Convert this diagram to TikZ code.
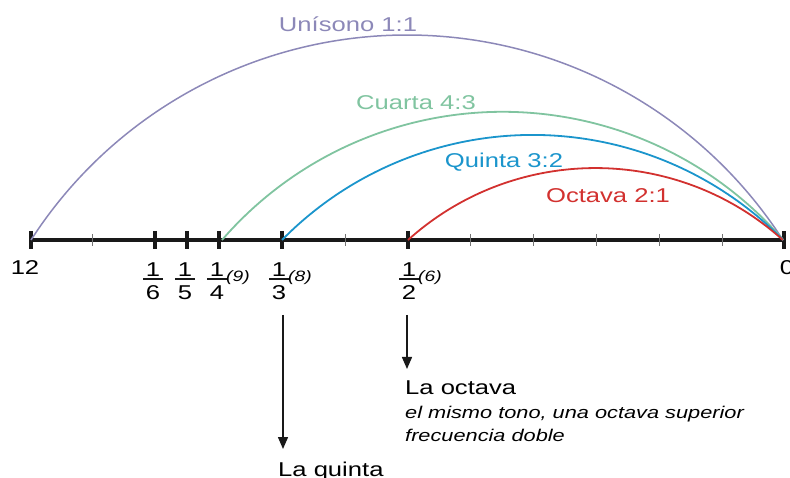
\documentclass[tikz,border=0pt]{standalone}
\usepackage{fontspec}
\setmainfont[FakeStretch=1.28]{Liberation Sans}
\usetikzlibrary{arrows.meta}
\definecolor{cuni}{HTML}{8C88B8}
\definecolor{ccua}{HTML}{80C4A0}
\definecolor{cqui}{HTML}{1B95CC}
\definecolor{coct}{HTML}{D2312F}
\tikzset{
  axisline/.style={line width=4pt, black!90},
  majortick/.style={line width=3.5pt, black!90},
  minortick/.style={line width=1pt, black!55},
  arcline/.style={line width=1.8pt},
  lbl/.style={inner sep=0pt, anchor=base, font=\fontsize{20}{24}\selectfont},
  lblw/.style={inner sep=0pt, anchor=base west, font=\fontsize{20}{24}\selectfont},
  itl/.style={inner sep=0pt, anchor=base west, font=\fontsize{17}{20}\selectfont\itshape},
  supl/.style={inner sep=0pt, anchor=base west, font=\fontsize{15}{18}\selectfont\itshape},
  fracbar/.style={line width=1.4pt, black!90},
  downarrow/.style={line width=1.4pt, black!90, -{Triangle[length=12pt,width=10pt]}}
}
\begin{document}
\begin{tikzpicture}[x=1pt,y=-1pt]
\useasboundingbox (0,0) rectangle (790,478);
% axis
\coordinate (t12) at (31,240);
\coordinate (t0) at (784,240);
\draw[axisline] (t12) -- (t0);
\foreach \x in {92,345,470,533,596,659,722} \draw[minortick] (\x,234) -- (\x,246);
\foreach \n/\x in {12/31,6/155,5/187,4/219,3/282,2/408,0/784} {
  \coordinate (t\n) at (\x,240);
  \draw[majortick] (\x,231) -- (\x,249);
}
% arcs
\coordinate (s4) at (222,240);
\draw[arcline, cuni, line width=1.5pt] (t12) arc[start angle=212.8, end angle=327.2, radius=447.3];
\draw[arcline, ccua] (s4) arc[start angle=220.9, end angle=319.1, radius=371.3];
\draw[arcline, cqui] (t3) arc[start angle=224.5, end angle=315.5, radius=351.3];
\draw[arcline, coct] (t2) arc[start angle=228, end angle=312, radius=280.1];
% arc labels
\node[lbl, text=cuni] (uni) at (348,32) {Unísono 1:1};
\node[lbl, text=ccua] (cua) at (416,110) {Cuarta 4:3};
\node[lbl, text=cqui] (qui) at (504,168) {Quinta 3:2};
\node[lbl, text=coct] (oct) at (608,203) {Octava 2:1};
% end labels
\node[lbl] (n12) at (25,275) {12};
\node[lbl] (n0) at (787,275) {0};
% fractions
\foreach \d/\x in {6/153,5/185,4/217,3/279,2/409} {
  \node[lbl] (num\d) at (\x,277) {1};
  \node[lbl] (den\d) at (\x,300) {\d};
  \draw[fracbar] (\x-10,279) -- (\x+10,279);
}
\node[supl] (p9) at (226,282) {(9)};
\node[supl] (p8) at (288,282) {(8)};
\node[supl] (p6) at (418,282) {(6)};
% arrows and texts
\node[lblw] (quinta) at (278,476) {La quinta};
\node[lblw] (octava) at (405,394) {La octava};
\node[itl] (l1) at (405,418) {el mismo tono, una octava superior};
\node[itl] (l2) at (405,441) {frecuencia doble};
\coordinate (qa) at (283,315);
\coordinate (qb) at (283,449);
\coordinate (oa) at (407,315);
\coordinate (ob) at (407,369);
\draw[downarrow] (qa) -- (qb);
\draw[downarrow] (oa) -- (ob);
\end{tikzpicture}
\end{document}
